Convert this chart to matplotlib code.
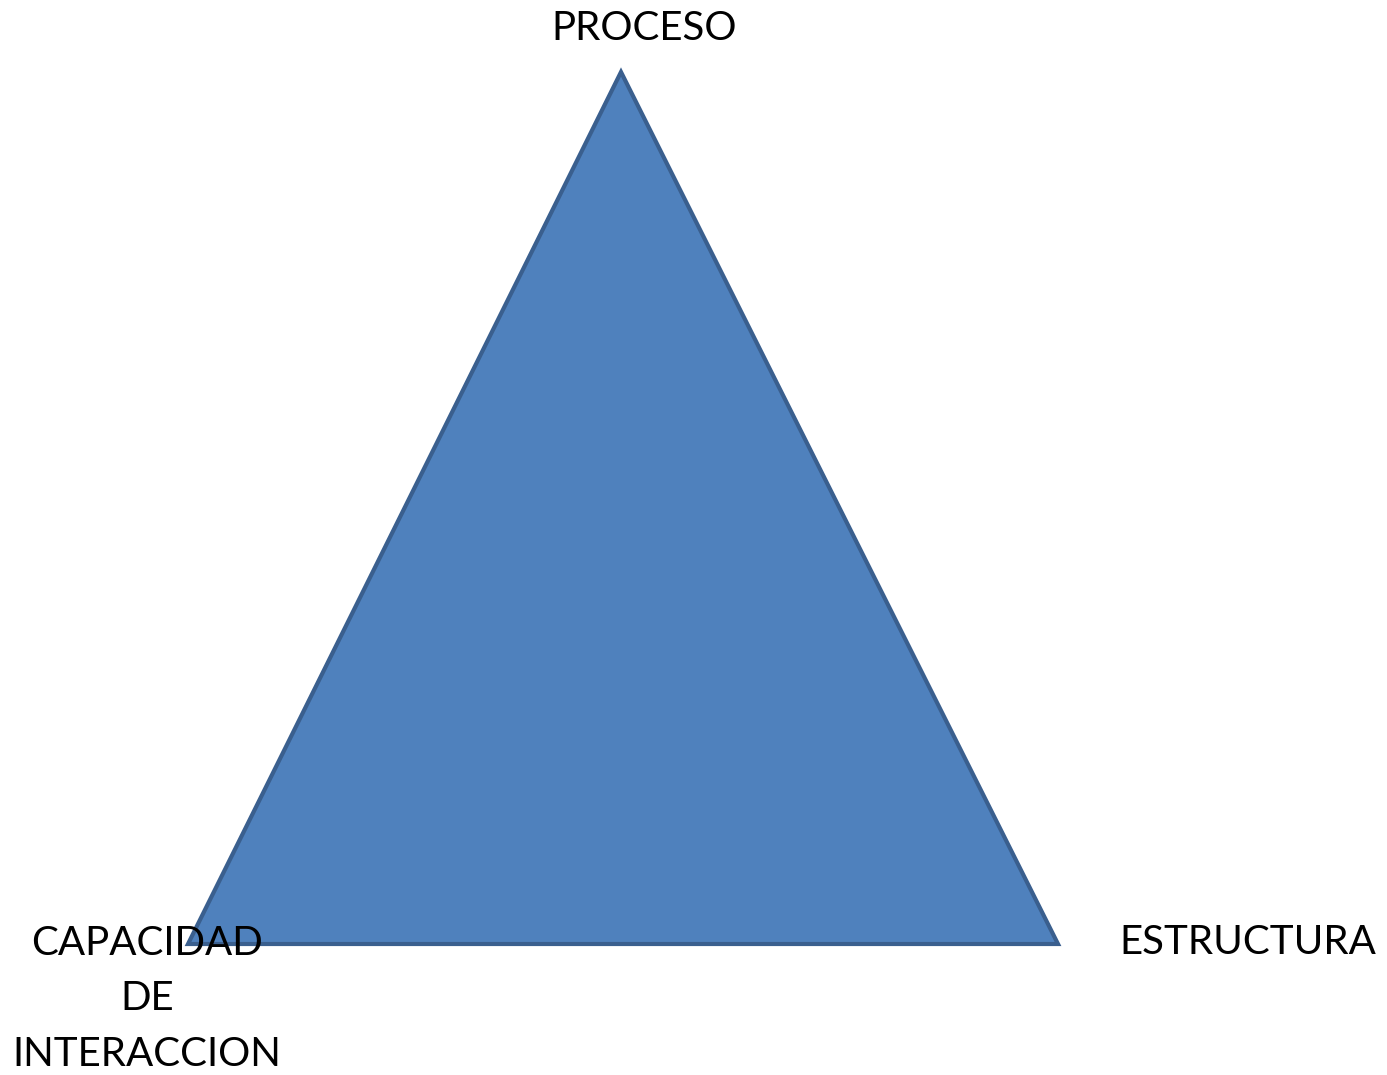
import matplotlib
matplotlib.use("Agg")
import matplotlib.pyplot as plt
from matplotlib.patches import Polygon

# triangle corners (pixel space of the original picture, y grows downward)
corner_x = [621, 188, 1058]
corner_y = [72, 944, 944]

# labels and where they sit
labels = ["PROCESO", "CAPACIDAD\nDE\nINTERACCION", "ESTRUCTURA"]
label_x = [644, 147, 1248]
label_y = [28, 999, 943]

W, H = 1387, 1075
fig = plt.figure(figsize=(W / 100, H / 100), dpi=100)
ax = fig.add_axes([0, 0, 1, 1])
ax.set_xlim(0, W)
ax.set_ylim(H, 0)
ax.axis("off")

tri = Polygon(list(zip(corner_x, corner_y)), closed=True,
              facecolor="#4F81BD", edgecolor="#3A5F8E", linewidth=3,
              joinstyle="miter")
ax.add_patch(tri)

for txt, x, y in zip(labels, label_x, label_y):
    ax.text(x, y, txt, ha="center", va="center", fontsize=29,
            family="Lato", color="black", linespacing=1.63)

fig.savefig("out.png", dpi=100)
